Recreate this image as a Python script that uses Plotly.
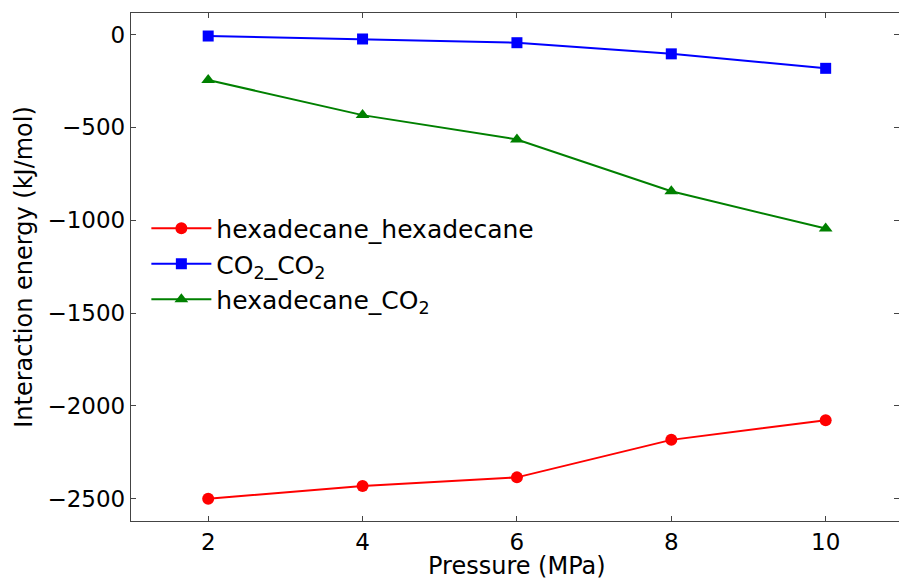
import plotly.graph_objects as go

# Pressure points (MPa)
pressure = [2, 4, 6, 8, 10]

# Interaction energies (kJ/mol)
hexadecane_hexadecane = [-2500, -2432, -2385, -2183, -2077]
co2_co2 = [-8, -24, -44, -104, -182]
hexadecane_co2 = [-245, -434, -565, -844, -1045]

series_names = ["hexadecane_hexadecane", "CO<sub>2</sub>_CO<sub>2</sub>", "hexadecane_CO<sub>2</sub>"]
series_values = [hexadecane_hexadecane, co2_co2, hexadecane_co2]
series_colors = ["#ff0000", "#0000ff", "#008000"]
series_symbols = ["circle", "square", "triangle-up"]
series_sizes = [12, 11, 12]

x_ticks = [2, 4, 6, 8, 10]
y_ticks = [0, -500, -1000, -1500, -2000, -2500]

FONT = "DejaVu Sans, Liberation Sans, sans-serif"

fig = go.Figure()
for name, vals, col, sym, sz in zip(series_names, series_values, series_colors,
                                     series_symbols, series_sizes):
    fig.add_trace(go.Scatter(
        x=pressure, y=vals, name=name, mode="lines+markers",
        line=dict(color=col, width=2),
        marker=dict(symbol=sym, size=sz, color=col, line=dict(width=0)),
    ))

axis_common = dict(
    showline=True, linecolor="#444444", linewidth=1.3, mirror="ticks",
    ticks="inside", ticklen=5, tickwidth=1, tickcolor="#444444",
    showgrid=False, zeroline=False,
    tickfont=dict(family=FONT, size=23, color="black"),
)

fig.update_layout(
    width=899, height=578,
    margin=dict(l=131, r=0, t=13, b=57),
    paper_bgcolor="white", plot_bgcolor="white",
    font=dict(family=FONT, size=24, color="black"),
    xaxis=dict(range=[1, 10.95], tickvals=x_ticks,
               ticktext=[str(v) for v in x_ticks],
               **axis_common),
    yaxis=dict(range=[-2620, 116], tickvals=y_ticks,
               ticktext=[("\u2212" + str(-v)) if v < 0 else str(v) for v in y_ticks],
               title=dict(text="Interaction energy (kJ/mol)", font=dict(size=24), standoff=8),
               **axis_common),
    legend=dict(x=0.02, y=0.621, xanchor="left", yanchor="top",
                bgcolor="rgba(0,0,0,0)", borderwidth=0,
                font=dict(family=FONT, size=25), tracegroupgap=0,
                itemwidth=60),
    showlegend=True,
)

# x-axis title placed below the tick labels
fig.add_annotation(
    text="Pressure (MPa)", xref="paper", yref="paper",
    x=(6 - 1) / (10.95 - 1), y=-0.089, xanchor="center", yanchor="middle",
    showarrow=False, font=dict(family=FONT, size=24, color="black"),
)

fig.write_html("out.html")
